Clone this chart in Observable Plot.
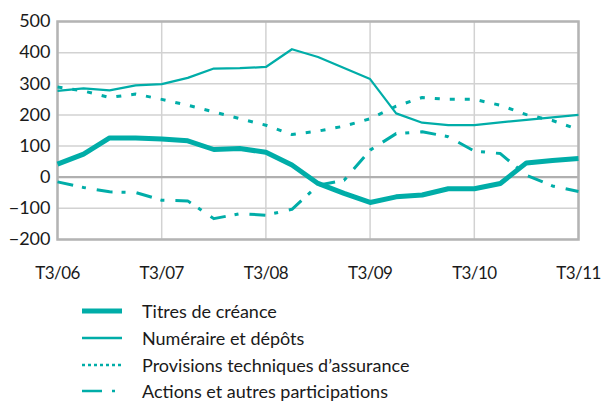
<!DOCTYPE html>
<html>
<head>
<meta charset="utf-8">
<script src="https://cdn.jsdelivr.net/npm/d3@7"></script>
<script src="https://cdn.jsdelivr.net/npm/@observablehq/plot@0.6"></script>
<style>
  html, body { margin: 0; padding: 0; background: #fff; }
  body { width: 601px; height: 403px; overflow: hidden; font-family: "Lato", "Open Sans", sans-serif; color: #1a1a1a; }
  #chart g[aria-label="x-axis tick label"] text { letter-spacing: -0.6px; }
  #legend { padding-left: 82px; padding-top: 8px; }
  .row { display: flex; align-items: center; height: 26.7px; }
  .row svg { width: 40px; height: 10px; margin-right: 20px; flex: none; }
  .row span { font-size: 18px; line-height: 1; }
</style>
</head>
<body>
<div id="chart"></div>
<div id="legend"></div>
<script>
const quarters = ["T3/06","T4/06","T1/07","T2/07","T3/07","T4/07","T1/08","T2/08","T3/08","T4/08","T1/09","T2/09","T3/09","T4/09","T1/10","T2/10","T3/10","T4/10","T1/11","T2/11","T3/11"];
const seriesNames = ["Titres de créance","Numéraire et dépôts","Provisions techniques d’assurance","Actions et autres participations"];
const titres     = [42, 74, 126, 126, 123, 117, 89, 92, 80, 39, -20, -52, -81, -63, -57, -37, -37, -20, 46, 54, 60];
const numeraire  = [277, 285, 279, 295, 299, 319, 349, 350, 354, 411, 386, 351, 315, 205, 175, 167, 167, 176, 184, 192, 200];
const provisions = [290, 277, 256, 267, 250, 231, 210, 188, 167, 137, 148, 164, 188, 228, 256, 250, 250, 231, 201, 182, 153];
const actions    = [-15, -33, -47, -49, -74, -76, -133, -117, -122, -103, -26, -10, 87, 140, 146, 130, 84, 76, 6, -28, -46];
const yTicks = [-200, -100, 0, 100, 200, 300, 400, 500];
const xTickLabels = ["T3/06","T3/07","T3/08","T3/09","T3/10","T3/11"];

const color = "#00ADA8";
const styles = [
  {strokeWidth: 5, dash: null, legendDash: null},
  {strokeWidth: 2.2, dash: null, legendDash: null},
  {strokeWidth: 3, dash: "5,10", legendDash: "3,3"},
  {strokeWidth: 3, dash: "16,9,4,11", legendDash: "20,10,3,20"}
];
const allValues = [titres, numeraire, provisions, actions];
const data = allValues.map((vals, s) => vals.map((v, i) => ({i, q: quarters[i], v, s: seriesNames[s]})));
const xTickIdx = xTickLabels.map(l => quarters.indexOf(l));

const lineMarks = data.map((d, s) => Plot.line(d, {
  x: "i", y: "v", stroke: color, strokeWidth: styles[s].strokeWidth,
  strokeDasharray: styles[s].dash, strokeLinejoin: "round", strokeLinecap: "butt"
}));

const chart = Plot.plot({
  width: 601,
  height: 290,
  marginLeft: 57,
  marginRight: 23,
  marginTop: 21,
  marginBottom: 51,
  style: {fontFamily: "Lato, 'Open Sans', sans-serif", fontSize: "18px", color: "#1a1a1a", background: "#fff"},
  x: {domain: [0, quarters.length - 1]},
  y: {domain: [-200, 500]},
  marks: [
    Plot.gridY(yTicks, {stroke: "#d2d2d2", strokeOpacity: 1, strokeWidth: 1.5}),
    Plot.gridX(xTickIdx, {stroke: "#d2d2d2", strokeOpacity: 1, strokeWidth: 1.5}),
    Plot.ruleY([0], {stroke: "#b0b0b0", strokeWidth: 2.2}),
    Plot.frame({stroke: "#b4b4b4", strokeWidth: 2.5}),
    Plot.axisY(yTicks, {tickSize: 0, tickPadding: 7, label: null, fontSize: 18}),
    Plot.axisX(xTickIdx, {tickSize: 0, tickPadding: 27.5, label: null, fontSize: 17, tickFormat: i => quarters[i]}),
    ...lineMarks
  ]
});
document.getElementById("chart").appendChild(chart);

const legend = document.getElementById("legend");
seriesNames.forEach((name, s) => {
  const row = document.createElement("div");
  row.className = "row";
  const st = styles[s];
  const sw = s === 0 ? 5 : 2.5;
  row.innerHTML = `<svg viewBox="0 0 40 10"><line x1="0" x2="40" y1="5" y2="5" stroke="${color}" stroke-width="${sw}" ${st.legendDash ? `stroke-dasharray="${st.legendDash}"` : ""}/></svg><span>${name}</span>`;
  legend.appendChild(row);
});
</script>
</body>
</html>
